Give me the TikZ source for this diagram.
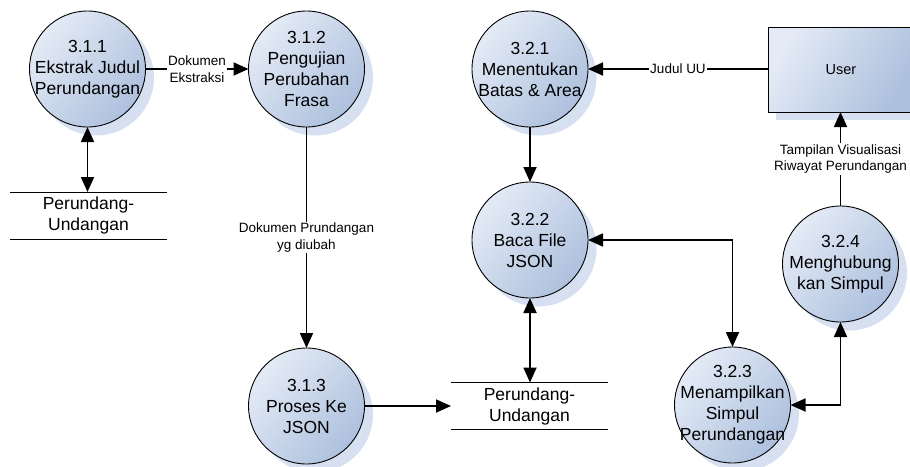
\documentclass[tikz,border=0pt]{standalone}
\usepackage{fontspec}
\setmainfont{Liberation Sans}
\usetikzlibrary{arrows.meta,shadows}
\definecolor{bLight}{HTML}{E4EBF6}
\definecolor{bDark}{HTML}{ADC0DD}
\definecolor{shadowc}{HTML}{D6E0F0}
\tikzset{
  x=1pt, y=-1pt,
  proc/.style={circle, draw=black, line width=0.9pt, minimum size=116pt,
    inner sep=0pt, outer sep=0pt, top color=bLight, bottom color=bDark, shading angle=50,
    drop shadow={shadow xshift=8.5pt, shadow yshift=-8.5pt, fill=shadowc, opacity=1}},
  ptext/.style={align=center, inner sep=0pt, font=\fontsize{17.5}{21}\selectfont},
  ent/.style={rectangle, draw=black, line width=0.9pt, minimum width=146pt, minimum height=85pt,
    inner sep=0pt, outer sep=0pt, top color=bLight, bottom color=bDark, shading angle=60,
    drop shadow={shadow xshift=8pt, shadow yshift=-8pt, fill=shadowc, opacity=1},
    font=\fontsize{14.5}{17}\selectfont},
  store/.style={rectangle, minimum width=157pt, minimum height=47pt, inner sep=0pt, outer sep=0pt,
    align=center, font=\fontsize{17.5}{21}\selectfont},
  storeline/.style={line width=0.9pt},
  flow/.style={line width=1.8pt, -{Triangle[length=15pt,width=13pt]}},
  bflow/.style={line width=1.8pt, {Triangle[length=15pt,width=13pt]}-{Triangle[length=15pt,width=13pt]}},
  lbl/.style={fill=white, inner sep=1pt, align=center, font=\fontsize{13.5}{16.5}\selectfont}
}
\begin{document}
\begin{tikzpicture}
\useasboundingbox (0,0) rectangle (910,466);
\clip (0,0) rectangle (910,466);

\node[proc, label={[ptext]center:{3.1.1\\Ekstrak Judul\\Perundangan}}] (c311) at (87.5,69) {};
\node[proc, label={[ptext]center:{3.1.2\\Pengujian\\Perubahan\\Frasa}}] (c312) at (306.5,69) {};
\node[proc, label={[ptext]center:{3.1.3\\Proses Ke\\JSON}}] (c313) at (306.5,406) {};
\node[proc, label={[ptext]center:{3.2.1\\Menentukan\\Batas \& Area}}] (c321) at (530,69) {};
\node[proc, label={[ptext]center:{3.2.2\\Baca File\\JSON}}] (c322) at (530,240) {};
\node[proc, label={[ptext]center:{3.2.3\\Menampilkan\\Simpul\\Perundangan}}] (c323) at (732.5,405) {};
\node[proc, label={[ptext]center:{3.2.4\\Menghubung\\kan Simpul}}] (c324) at (840.5,264) {};

\node[ent] (user) at (841,69.5) {User};

\node[store] (s1) at (88.5,215.5) {Perundang-\\Undangan};
\draw[storeline] (s1.north west) -- (s1.north east) (s1.south west) -- (s1.south east);
\node[store] (s2) at (529.5,406) {Perundang-\\Undangan};
\draw[storeline] (s2.north west) -- (s2.north east) (s2.south west) -- (s2.south east);

\draw[bflow] (c311.south) -- (c311.south |- s1.north);
\draw[flow] (c311.east) -- node[lbl]{Dokumen\\Ekstraksi} (c312.west);
\draw[flow] (c312.south) -- node[lbl]{Dokumen Prundangan\\yg diubah} (c313.north);
\draw[flow] (c313.east) -- (c313.east -| s2.west);
\draw[flow] (user.west |- c321.east) -- node[lbl]{Judul UU} (c321.east);
\draw[flow] (c321.south) -- (c322.north);
\draw[bflow] (c322.south) -- (c322.south |- s2.north);
\draw[bflow] (c322.east) -| (c323.north);
\draw[bflow] (c323.east) -| (c324.south);
\draw[flow] (c324.north) -- node[lbl]{Tampilan Visualisasi\\Riwayat Perundangan} (c324.north |- user.south);
\end{tikzpicture}
\end{document}
